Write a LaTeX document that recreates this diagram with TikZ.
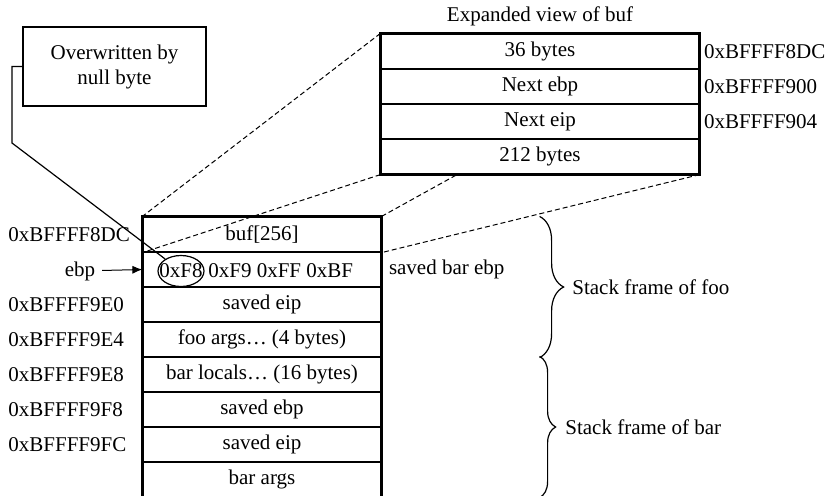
\documentclass[tikz,border=0pt]{standalone}
\usepackage{fontspec}
\setmainfont{Liberation Serif}
\usetikzlibrary{positioning,arrows.meta,calc,shapes.geometric,decorations.pathreplacing}

\begin{document}
\begin{tikzpicture}[x=0.5pt,y=-0.5pt,
  every node/.style={font=\fontsize{10.5}{12.5}\selectfont},
  cell/.style={draw, line width=0.6pt, minimum width=#1, minimum height=17.5pt, inner sep=0pt},
  lbl/.style={inner sep=1pt, anchor=west},
  frame/.style={line width=1.1pt},
  zoom/.style={dash pattern=on 2.5pt off 1.5pt, line width=0.5pt},
  arr/.style={-{Latex[length=5pt,width=4pt]}, line width=0.5pt},
  fbrace/.style={decorate, decoration={brace, amplitude=#1}, line width=0.6pt}]
\useasboundingbox (0,0) rectangle (832,495);
% stack of foo and bar
\foreach \t [count=\i] in {buf[256], {}, saved eip, foo args… (4 bytes), bar locals… (16 bytes), saved ebp, saved eip, bar args}
  \node[cell=119pt] (r\i) at (262, 199.5+35*\i) {\t};
\draw[frame] (r8.south west) -- (r1.north west) -- (r1.north east) -- (r8.south east);
\node[inner sep=0pt] (f8) at (181,271) {0xF8};
\node[inner sep=0pt, right=2.5pt of f8] (bytes) {0xF9 0xFF 0xBF};
\foreach \i/\a in {1/0xBFFFF8DC, 3/0xBFFFF9E0, 4/0xBFFFF9E4, 5/0xBFFFF9E8, 6/0xBFFFF9F8, 7/0xBFFFF9FC}
  \node[lbl] (ra\i) at (6, 199.5+35*\i) {\a};
\node (ebp) at (80,271) {ebp};
\draw[arr] (ebp) -- (r2.west);
\node[lbl, right=2.5pt of r2.east] (sbe) {saved bar ebp};
% expanded view of buf
\foreach \t [count=\i] in {36 bytes, Next ebp, Next eip, 212 bytes}
  \node[cell=159pt] (x\i) at (540, 16.5+35*\i) {\t};
\draw[frame] (x1.north west) rectangle (x4.south east);
\node[above=0pt of x1] (title) {Expanded view of buf};
\foreach \a [count=\i] in {0xBFFFF8DC, 0xBFFFF900, 0xBFFFF904}
  \node[lbl] (xa\i) at ($(x\i.east)+(2,0)$) {\a};
\draw[zoom] (x1.north west) -- (r1.north west);
\draw[zoom] (x4.south west) -- (r1.south west);
\draw[zoom] (r1.north east) -- ($(x4.south west)!0.24!(x4.south east)$);
\draw[zoom] (x4.south east) -- (r1.south east);
% null byte
\node[ellipse, draw, line width=0.6pt, minimum width=23pt, minimum height=15.5pt, inner sep=0pt] (nul) at (f8) {};
\node[draw, line width=0.6pt, minimum width=91.5pt, minimum height=39.5pt, align=center] (ob) at (114.5,66.5) {Overwritten by\\null byte};
\coordinate (bend) at (12,143);
\draw[line width=0.6pt] (ob.west) -| (bend) -- (nul);
% frames
\draw[fbrace=12pt] ([xshift=79pt]r1.north east) -- ([xshift=79pt]r4.south east);
\draw[fbrace=8pt] ([xshift=79pt]r5.north east) -- ([xshift=79pt]r8.south east);
\node[lbl] (foo) at (570,287) {Stack frame of foo};
\node[lbl] (bar) at (563,427) {Stack frame of bar};
\end{tikzpicture}
\end{document}
